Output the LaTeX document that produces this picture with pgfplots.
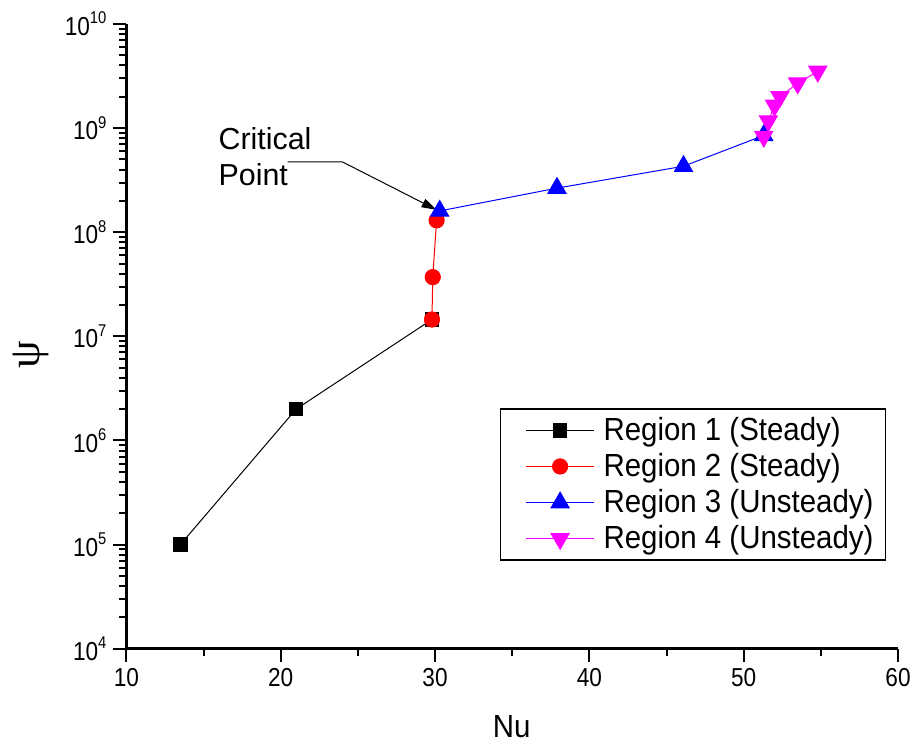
\documentclass[border=0pt]{standalone}
\usepackage{pgfplots}
\pgfplotsset{compat=1.18}
\usepackage{fontspec}
\setmainfont{Liberation Sans}
\newfontfamily\tickfont[FakeStretch=0.87]{Liberation Sans}
\newfontfamily\legfont[FakeStretch=0.92]{Liberation Sans}
\newfontfamily\greekfont{Liberation Serif}
\usetikzlibrary{arrows.meta}

\definecolor{regmag}{RGB}{255,0,255}
% power-of-ten tick label
\newcommand{\pten}[1]{10\raisebox{5.8pt}{\fontsize{8.5}{9}\selectfont #1}}

\begin{document}
\begin{tikzpicture}
\begin{axis}[
  scale only axis,
  width=386pt, height=312.5pt,
  xmin=10, xmax=60,
  ymode=log, ymin=1e4, ymax=1e10,
  axis x line*=bottom, axis y line*=left,
  axis line style={line width=1.2pt, black},
  tick align=outside,
  major tick length=6.5pt, minor tick length=3.5pt,
  every tick/.style={line width=1pt, black},
  xtick={10,20,30,40,50,60},
  minor x tick num=1,
  ytick={1e4,1e5,1e6,1e7,1e8,1e9,1e10},
  yticklabels={\pten{4},\pten{5},\pten{6},\pten{7},\pten{8},\pten{9},\pten{10}},
  minor ytick={2e4,3e4,4e4,5e4,6e4,7e4,8e4,9e4,
               2e5,3e5,4e5,5e5,6e5,7e5,8e5,9e5,
               2e6,3e6,4e6,5e6,6e6,7e6,8e6,9e6,
               2e7,3e7,4e7,5e7,6e7,7e7,8e7,9e7,
               2e8,3e8,4e8,5e8,6e8,7e8,8e8,9e8,
               2e9,3e9,4e9,5e9,6e9,7e9,8e9,9e9},
  /pgf/number format/assume math mode=true,
  tick label style={font=\tickfont\fontsize{13}{15}\selectfont},
  xlabel={Nu},
  xlabel style={font=\legfont\fontsize{16}{19}\selectfont, at={(axis description cs:0.4994,-0.1248)}, anchor=center},
  ylabel={\greekfont ψ},
  ylabel style={font=\fontsize{22}{24}\selectfont, at={(axis description cs:-0.124,0.47)}, anchor=center},
  legend cell align=left,
  legend style={at={(0.9845,0.1408)}, anchor=south east, draw=black, line width=0.6pt,
    font=\legfont\fontsize{16}{19}\selectfont,
    inner xsep=0pt, inner ysep=3.6pt, row sep=4pt, column sep=4pt,
    nodes={inner sep=0.5pt}},
  legend image code/.code={%
    \pgfpathrectangle{\pgfpoint{0pt}{-1pt}}{\pgfpoint{47pt}{2pt}}%
    \pgfusepath{}%
    \draw[mark repeat=2, mark phase=2] plot coordinates {(13pt,0pt) (30pt,0pt) (47pt,0pt)};},
  clip=false,
]

% Region 1: steady
\addplot[black, line width=0.5pt, mark=square*, mark size=3.4pt, mark options={solid, fill=black}]
  coordinates {(13.5,1e5) (21.0,2.0e6) (29.8,1.45e7)};
\addlegendentry{Region 1 (Steady)}

% Region 2: steady
\addplot[red, line width=0.5pt, mark=*, mark size=3.8pt, mark options={solid, fill=red}]
  coordinates {(29.8,1.45e7) (29.85,3.7e7) (30.1,1.3e8)};
\addlegendentry{Region 2 (Steady)}

% Region 3: unsteady
\addplot[blue, line width=0.5pt, mark=triangle*, mark size=5.2pt, mark options={solid, fill=blue}]
  coordinates {(30.3,1.6e8) (37.9,2.65e8) (46.1,4.3e8) (51.3,8.5e8)};
\addlegendentry{Region 3 (Unsteady)\hspace*{5.5pt}}

% Region 4: unsteady
\addplot[regmag, line width=0.5pt, mark=triangle*, mark size=5.2pt, mark options={solid, fill=regmag, rotate=180}]
  coordinates {(51.3,8.3e8) (51.6,1.17e9) (52.0,1.65e9) (52.35,2.0e9) (53.5,2.7e9) (54.8,3.5e9)};
\addlegendentry{Region 4 (Unsteady)\hspace*{5.5pt}}

% annotation of the transition
\node[anchor=base west, inner sep=0pt, font=\fontsize{15.2}{18}\selectfont]
  at (axis cs:15.95,6.17e8) {Critical};
\node[anchor=base west, inner sep=0pt, font=\fontsize{15.2}{18}\selectfont]
  at (axis cs:15.95,2.79e8) {Point};
\draw[black, line width=0.5pt, -{Triangle[length=7.5pt,width=4.5pt]}]
  (axis cs:20.45,4.73e8) -- (axis cs:24.0,4.73e8) -- (axis cs:30.1,1.64e8);

\end{axis}
\pgfresetboundingbox
\useasboundingbox (-63.25pt,-49pt) rectangle (397pt,324.5pt);
\end{tikzpicture}
\end{document}
